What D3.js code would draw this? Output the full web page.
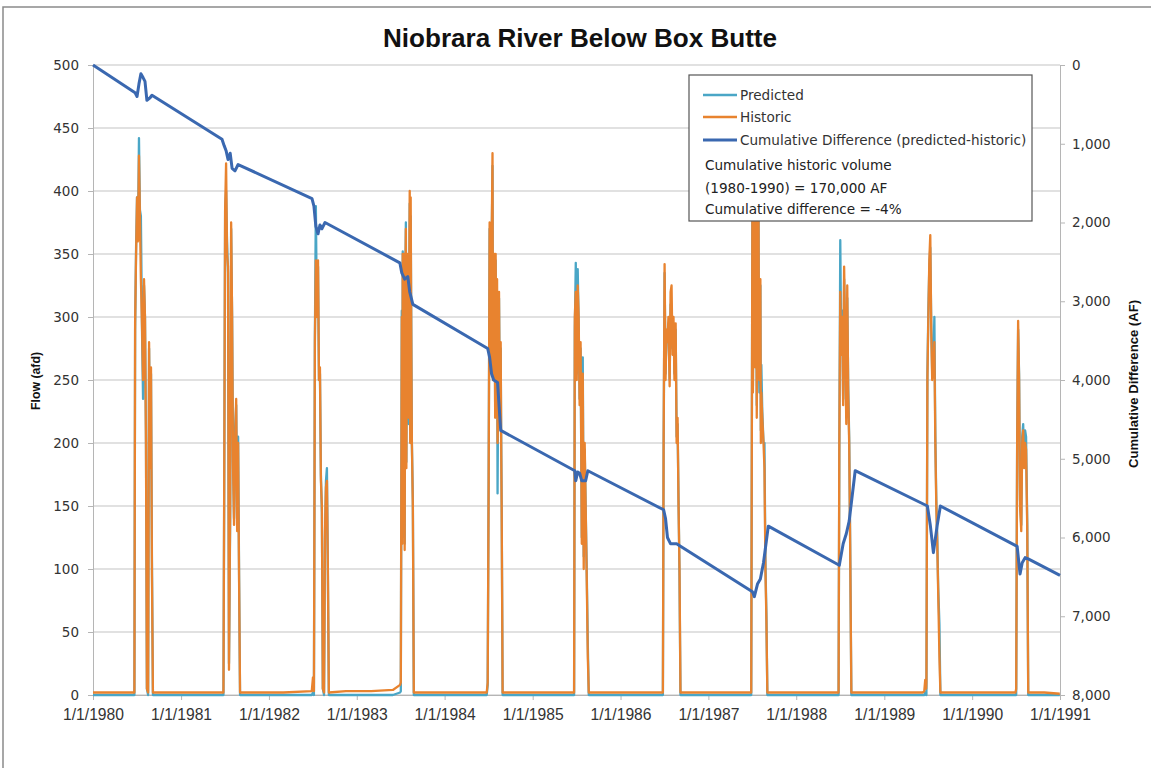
<!DOCTYPE html>
<html><head><meta charset="utf-8">
<script src="https://cdn.jsdelivr.net/npm/d3@7"></script>
<style>body{margin:0;background:#fff;} svg{display:block;}</style>
</head><body><svg id="c" width="1151" height="768"></svg>
<script>
const chartTitle = "Niobrara River Below Box Butte";
const leftTitle = "Flow (afd)";
const rightTitle = "Cumulative Difference (AF)";
const xTickYears = [1980,1981,1982,1983,1984,1985,1986,1987,1988,1989,1990,1991];
const flowTicks = [0,50,100,150,200,250,300,350,400,450,500];
const cumTicks = [0,1000,2000,3000,4000,5000,6000,7000,8000];
const seriesNames = ["Predicted","Historic","Cumulative Difference (predicted-historic)"];
const noteLines = ["Cumulative historic volume","(1980-1990) = 170,000 AF","Cumulative difference = -4%"];

// [year, dayOfYear, historic, predicted]  (afd)
const flowRows = [
[1980,0,2,0],[1980,90,2,0],[1980,172,2,0],
[1980,175,295,290],[1980,179,350,355],[1980,183,395,395],[1980,187,360,365],[1980,191,428,442],[1980,195,380,385],[1980,199,330,380],[1980,204,290,285],[1980,208,250,235],[1980,212,330,325],[1980,216,300,300],[1980,220,200,210],[1980,224,5,5],[1980,229,2,0],[1980,233,280,275],[1980,237,180,185],[1980,241,260,255],[1980,245,95,105],[1980,249,2,0],[1980,320,2,0],
[1981,60,2,0],[1981,176,2,0],[1981,179,160,150],[1981,183,385,385],[1981,187,422,400],[1981,191,350,360],[1981,195,340,335],[1981,199,20,25],[1981,204,150,140],[1981,208,375,370],[1981,212,300,300],[1981,216,180,185],[1981,220,135,140],[1981,224,200,210],[1981,229,235,230],[1981,233,130,135],[1981,237,200,205],[1981,241,90,95],[1981,245,2,0],[1981,320,2,0],
[1982,60,2,0],[1982,178,3,0],[1982,183,14,2],[1982,187,3,0],[1982,191,280,285],[1982,195,345,388],[1982,199,300,305],[1982,204,345,340],[1982,208,250,250],[1982,212,260,255],[1982,216,170,175],[1982,220,150,145],[1982,224,5,5],[1982,229,2,0],[1982,233,130,125],[1982,237,165,170],[1982,241,170,180],[1982,245,100,95],[1982,249,2,0],[1982,320,3,0],
[1983,60,3,0],[1983,150,4,0],[1983,180,8,2],[1983,183,10,3],[1983,187,300,305],[1983,189,120,125],[1983,191,350,352],[1983,193,330,335],[1983,195,200,205],[1983,197,350,345],[1983,199,115,120],[1983,201,300,305],[1983,204,370,375],[1983,206,180,185],[1983,208,280,285],[1983,210,350,345],[1983,212,320,315],[1983,214,240,245],[1983,216,220,215],[1983,218,330,325],[1983,220,400,390],[1983,222,200,210],[1983,224,395,380],[1983,226,300,310],[1983,229,200,200],[1983,233,150,155],[1983,237,2,0],[1983,320,2,0],
[1984,60,2,0],[1984,175,2,0],[1984,179,10,8],[1984,183,170,175],[1984,187,375,370],[1984,191,260,265],[1984,195,350,345],[1984,199,430,420],[1984,201,250,255],[1984,204,300,305],[1984,206,350,345],[1984,208,330,325],[1984,210,220,225],[1984,212,350,345],[1984,214,290,285],[1984,216,250,255],[1984,218,330,320],[1984,220,200,160],[1984,222,220,225],[1984,224,300,295],[1984,226,320,315],[1984,229,230,235],[1984,231,250,245],[1984,233,280,275],[1984,235,200,205],[1984,237,150,155],[1984,241,2,0],[1984,320,2,0],
[1985,60,2,0],[1985,172,2,0],[1985,175,300,290],[1985,179,320,343],[1985,183,250,255],[1985,187,325,338],[1985,191,300,295],[1985,195,230,235],[1985,199,280,275],[1985,204,120,125],[1985,208,255,268],[1985,212,100,110],[1985,216,200,195],[1985,220,150,150],[1985,224,100,105],[1985,229,30,40],[1985,233,2,0],[1985,320,2,0],
[1986,60,2,0],[1986,176,2,0],[1986,179,200,195],[1986,183,342,335],[1986,187,250,255],[1986,191,290,285],[1986,195,280,285],[1986,199,300,295],[1986,204,245,250],[1986,208,320,310],[1986,212,325,308],[1986,216,270,275],[1986,220,300,295],[1986,224,250,255],[1986,229,295,290],[1986,233,200,205],[1986,237,220,215],[1986,241,150,155],[1986,245,100,95],[1986,249,2,0],[1986,320,2,0],
[1987,60,2,0],[1987,178,2,0],[1987,183,400,395],[1987,185,240,245],[1987,187,300,305],[1987,189,380,375],[1987,191,420,410],[1987,193,300,290],[1987,195,260,265],[1987,197,380,370],[1987,199,330,356],[1987,201,220,230],[1987,204,300,305],[1987,206,350,345],[1987,208,410,400],[1987,210,280,275],[1987,212,250,240],[1987,214,300,295],[1987,216,330,325],[1987,218,200,210],[1987,220,240,262],[1987,224,220,225],[1987,229,200,200],[1987,233,180,200],[1987,237,100,105],[1987,241,60,65],[1987,245,2,0],[1987,320,2,0],
[1988,60,2,0],[1988,176,2,0],[1988,179,200,190],[1988,183,320,361],[1988,187,270,275],[1988,191,300,305],[1988,195,230,235],[1988,199,340,330],[1988,204,275,275],[1988,208,215,220],[1988,212,325,315],[1988,216,240,245],[1988,220,200,205],[1988,224,120,125],[1988,229,2,0],[1988,320,2,0],
[1989,60,2,0],[1989,160,2,0],[1989,166,3,0],[1989,170,12,2],[1989,174,5,0],[1989,175,10,0],[1989,179,250,255],[1989,183,300,305],[1989,187,345,340],[1989,191,365,355],[1989,195,290,295],[1989,199,250,255],[1989,204,260,265],[1989,208,280,300],[1989,212,200,205],[1989,216,150,155],[1989,220,120,125],[1989,224,80,85],[1989,229,30,56],[1989,233,2,0],[1989,320,2,0],
[1990,60,2,0],[1990,180,2,0],[1990,183,5,0],[1990,187,200,205],[1990,191,297,290],[1990,195,250,255],[1990,199,150,155],[1990,204,130,135],[1990,208,200,205],[1990,212,210,215],[1990,216,180,185],[1990,220,200,210],[1990,224,195,205],[1990,229,130,135],[1990,233,2,0],[1990,300,2,0],[1990,364,1,0]
];

// [year, dayOfYear, cumulative difference AF]
const cumRows = [
[1980,0,0],[1980,175,352],[1980,183,400],[1980,191,240],[1980,199,112],[1980,208,160],[1980,216,208],[1980,224,448],[1980,237,416],[1980,245,384],
[1981,170,944],[1981,179,1024],[1981,187,1088],[1981,195,1200],[1981,204,1120],[1981,212,1312],[1981,224,1344],[1981,237,1264],
[1982,179,1696],[1982,187,1792],[1982,195,2048],[1982,204,2144],[1982,212,2032],[1982,220,2080],[1982,233,2000],
[1983,179,2512],[1983,187,2640],[1983,199,2720],[1983,212,2688],[1983,220,2880],[1983,233,3040],
[1984,179,3600],[1984,187,3712],[1984,195,3920],[1984,204,4000],[1984,220,4032],[1984,233,4640],
[1985,175,5152],[1985,179,5280],[1985,187,5168],[1985,195,5184],[1985,204,5280],[1985,220,5280],[1985,229,5152],
[1986,179,5648],[1986,187,5760],[1986,195,6000],[1986,208,6080],[1986,233,6080],[1986,249,6112],
[1987,183,6688],[1987,191,6752],[1987,204,6592],[1987,216,6528],[1987,229,6320],[1987,249,5856],
[1988,179,6352],[1988,195,6080],[1988,208,5952],[1988,220,5792],[1988,245,5152],
[1989,179,5600],[1989,191,5840],[1989,204,6192],[1989,220,5840],[1989,233,5600],
[1990,187,6112],[1990,199,6464],[1990,208,6320],[1990,220,6256],[1990,233,6272],
[1991,0,6480]
];

const colors = {pred:"#4aa6c6", hist:"#e8832f", cum:"#3a68b0"};
const toDate = (y,d) => d3.timeDay.offset(new Date(y,0,1), d);
const flowSorted = d3.sort(flowRows, r => toDate(r[0], r[1]));

const svg = d3.select("#c");
const L = 93, R = 1060, T = 65, B = 695;

svg.append("path").attr("d","M3,768 L3,7 L1151,7").attr("fill","none").attr("stroke","#8a8a8a").attr("stroke-width",1.5);

const x = d3.scaleTime().domain([new Date(1980,0,1), new Date(1991,0,1)]).range([L,R]);
const yF = d3.scaleLinear().domain([0,500]).range([B,T]);
const yC = d3.scaleLinear().domain([0,8000]).range([T,B]);

svg.append("g").selectAll("line").data(flowTicks).join("line")
  .attr("x1",L).attr("x2",R).attr("y1",d=>yF(d)).attr("y2",d=>yF(d))
  .attr("stroke","#c4c4c4").attr("stroke-width",1.2);

const gL = svg.append("g").attr("transform",`translate(${L},0)`)
  .call(d3.axisLeft(yF).tickValues(flowTicks).tickSize(5).tickPadding(9));
gL.select(".domain").attr("stroke","#b5b5b5");
gL.selectAll(".tick line").attr("stroke","#b5b5b5");
gL.selectAll("text").attr("font-family","DejaVu Sans, Verdana, sans-serif").attr("font-size",13.5).attr("fill","#333");

const gR = svg.append("g").attr("transform",`translate(${R},0)`)
  .call(d3.axisRight(yC).tickValues(cumTicks).tickSize(5).tickPadding(7).tickFormat(d3.format(",")));
gR.select(".domain").attr("stroke","#b5b5b5");
gR.selectAll(".tick line").attr("stroke","#b5b5b5");
gR.selectAll("text").attr("font-family","DejaVu Sans, Verdana, sans-serif").attr("font-size",13.5).attr("fill","#333");

const gB = svg.append("g").attr("transform",`translate(0,${B})`)
  .call(d3.axisBottom(x).tickValues(xTickYears.map(y=>new Date(y,0,1))).tickSize(5).tickPadding(8).tickFormat(d=>`1/1/${d.getFullYear()}`));
gB.select(".domain").attr("stroke","#b5b5b5");
gB.selectAll(".tick line").attr("stroke","#b5b5b5");
gB.selectAll("text").attr("font-family","Liberation Sans Narrow, Arial Narrow, sans-serif").attr("font-size",16.5).attr("fill","#333")
  .attr("textLength",61).attr("lengthAdjust","spacingAndGlyphs");

const plot = svg.append("g");
const lineP = d3.line().x(d=>x(toDate(d[0],d[1]))).y(d=>yF(d[3]));
const lineH = d3.line().x(d=>x(toDate(d[0],d[1]))).y(d=>yF(d[2]));
const lineC = d3.line().x(d=>x(toDate(d[0],d[1]))).y(d=>yC(d[2]));
plot.append("path").datum(flowSorted).attr("d",lineP).attr("fill","none").attr("stroke",colors.pred).attr("stroke-width",2.3).attr("stroke-linejoin","round");
plot.append("path").datum(flowSorted).attr("d",lineH).attr("fill","none").attr("stroke",colors.hist).attr("stroke-width",2.3).attr("stroke-linejoin","round");
plot.append("path").datum(cumRows).attr("d",lineC).attr("fill","none").attr("stroke",colors.cum).attr("stroke-width",3).attr("stroke-linejoin","round");

svg.append("text").attr("x",580).attr("y",47).attr("text-anchor","middle")
  .attr("font-family","Liberation Sans Narrow, Arial Narrow, sans-serif").attr("font-weight","bold").attr("font-size",25)
  .attr("fill","#111").attr("textLength",394).attr("lengthAdjust","spacingAndGlyphs").text(chartTitle);

svg.append("text").attr("transform","translate(40,381) rotate(-90)").attr("text-anchor","middle")
  .attr("font-family","Liberation Sans Narrow, Arial Narrow, sans-serif").attr("font-weight","bold").attr("font-size",13.5)
  .attr("fill","#111").attr("textLength",58).attr("lengthAdjust","spacingAndGlyphs").text(leftTitle);
svg.append("text").attr("transform","translate(1138,384) rotate(-90)").attr("text-anchor","middle")
  .attr("font-family","Liberation Sans Narrow, Arial Narrow, sans-serif").attr("font-weight","bold").attr("font-size",13.5)
  .attr("fill","#111").attr("textLength",168).attr("lengthAdjust","spacingAndGlyphs").text(rightTitle);

const lg = svg.append("g");
lg.append("rect").attr("x",689).attr("y",75).attr("width",343).attr("height",146)
  .attr("fill","#fff").attr("stroke","#555").attr("stroke-width",1.2);
const legY = [95,117,140];
const legC = [colors.pred, colors.hist, colors.cum];
const legW = [2.5,2.5,3];
seriesNames.forEach((n,i)=>{
  lg.append("line").attr("x1",703).attr("x2",737).attr("y1",legY[i]).attr("y2",legY[i]).attr("stroke",legC[i]).attr("stroke-width",legW[i]);
  lg.append("text").attr("x",740).attr("y",legY[i]+5).attr("font-family","DejaVu Sans, Verdana, sans-serif").attr("font-size",13.6).attr("fill","#333").text(n);
});
const noteY = [170,193,214];
noteLines.forEach((t,i)=>{
  lg.append("text").attr("x",705).attr("y",noteY[i]).attr("font-family","DejaVu Sans, Verdana, sans-serif").attr("font-size",13.6).attr("fill","#222").text(t);
});
</script></body></html>
